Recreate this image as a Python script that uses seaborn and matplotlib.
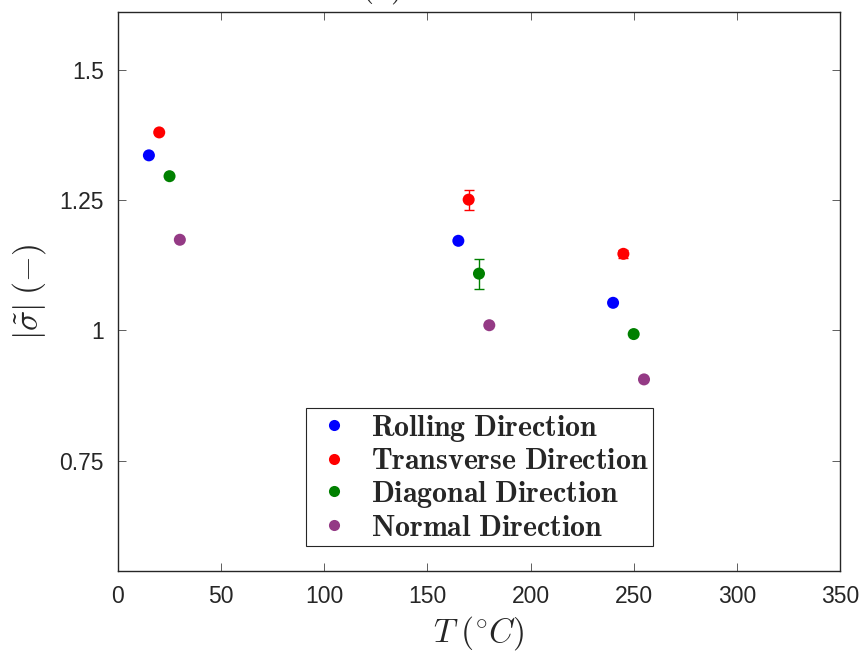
import matplotlib
matplotlib.use("Agg")
import matplotlib.pyplot as plt
import pandas as pd
import seaborn as sns

directions = ["Rolling Direction", "Transverse Direction", "Diagonal Direction", "Normal Direction"]
colors = ["#0000ff", "#ff0000", "#008000", "#943a85"]

rd_T = [15, 165, 240]
rd_sig = [1.336, 1.172, 1.053]
rd_err = [0.0, 0.0, 0.0]

td_T = [20, 170, 245]
td_sig = [1.380, 1.251, 1.147]
td_err = [0.0, 0.019, 0.008]

dd_T = [25, 175, 250]
dd_sig = [1.296, 1.109, 0.993]
dd_err = [0.0, 0.029, 0.0]

nd_T = [30, 180, 255]
nd_sig = [1.174, 1.010, 0.906]
nd_err = [0.0, 0.0, 0.0]

x_ticks = [0, 50, 100, 150, 200, 250, 300, 350]
y_ticks = [0.75, 1, 1.25, 1.5]
y_tick_labels = ["0.75", "1", "1.25", "1.5"]

series = [(rd_T, rd_sig, rd_err), (td_T, td_sig, td_err),
          (dd_T, dd_sig, dd_err), (nd_T, nd_sig, nd_err)]
rows = []
for name, (T, s, e) in zip(directions, series):
    for t, v, err in zip(T, s, e):
        rows.append({"T": t, "sigma": v, "err": err, "Direction": name})
df = pd.DataFrame(rows)

sns.set_style("ticks")
plt.rcParams["mathtext.fontset"] = "cm"
plt.rcParams["font.family"] = ["Liberation Sans", "DejaVu Sans"]

fig = plt.figure(figsize=(8.61, 6.55), dpi=100)
ax = fig.add_axes([0.137, 0.128, 0.8386, 0.8536])

# error bars first so the dots sit on top
for name, c in zip(directions, colors):
    sub = df[(df["Direction"] == name) & (df["err"] > 0)]
    if len(sub):
        ax.errorbar(sub["T"], sub["sigma"], yerr=sub["err"], fmt="none",
                    ecolor=c, elinewidth=1, capsize=3.5, capthick=1, zorder=2)

sns.scatterplot(data=df, x="T", y="sigma", hue="Direction", hue_order=directions,
                palette=colors, s=75, linewidth=0, ax=ax, zorder=3, legend=False)

ax.set_xlim(0, 350)
ax.set_ylim(0.538, 1.611)
ax.set_xticks(x_ticks)
ax.set_yticks(y_ticks)
ax.set_yticklabels(y_tick_labels)
ax.tick_params(direction="in", top=True, right=True, labelsize=16.5,
               length=6, width=0.6, color="#444444", labelcolor="#262626", pad=10)
for sp in ax.spines.values():
    sp.set_linewidth(1.0)
    sp.set_color("#262626")

ax.set_xlabel(r"$T\;(^{\circ}C)$", fontsize=24, labelpad=4)
ax.set_ylabel(r"$|\tilde{\sigma}|\;(-)$", fontsize=24, labelpad=8)

handles = [plt.Line2D([], [], linestyle="none", marker="o", markersize=8,
                      markerfacecolor=c, markeredgecolor="none") for c in colors]
labels = [r"$\mathbf{" + d.replace(" ", r"\ ") + "}$" for d in directions]
leg = ax.legend(handles, labels, loc="lower left", bbox_to_anchor=(0.261, 0.045),
                fontsize=21.5, frameon=True, fancybox=False, framealpha=1,
                edgecolor="#262626", borderpad=0.15, labelspacing=0.12,
                handletextpad=0.45, handlelength=1.55, borderaxespad=0)
leg.get_frame().set_linewidth(0.8)

fig.text(0.4425, 1.0 + 4 / 655, r"$(a)$", ha="center", va="baseline", fontsize=24)

fig.savefig("out.png", dpi=100)
